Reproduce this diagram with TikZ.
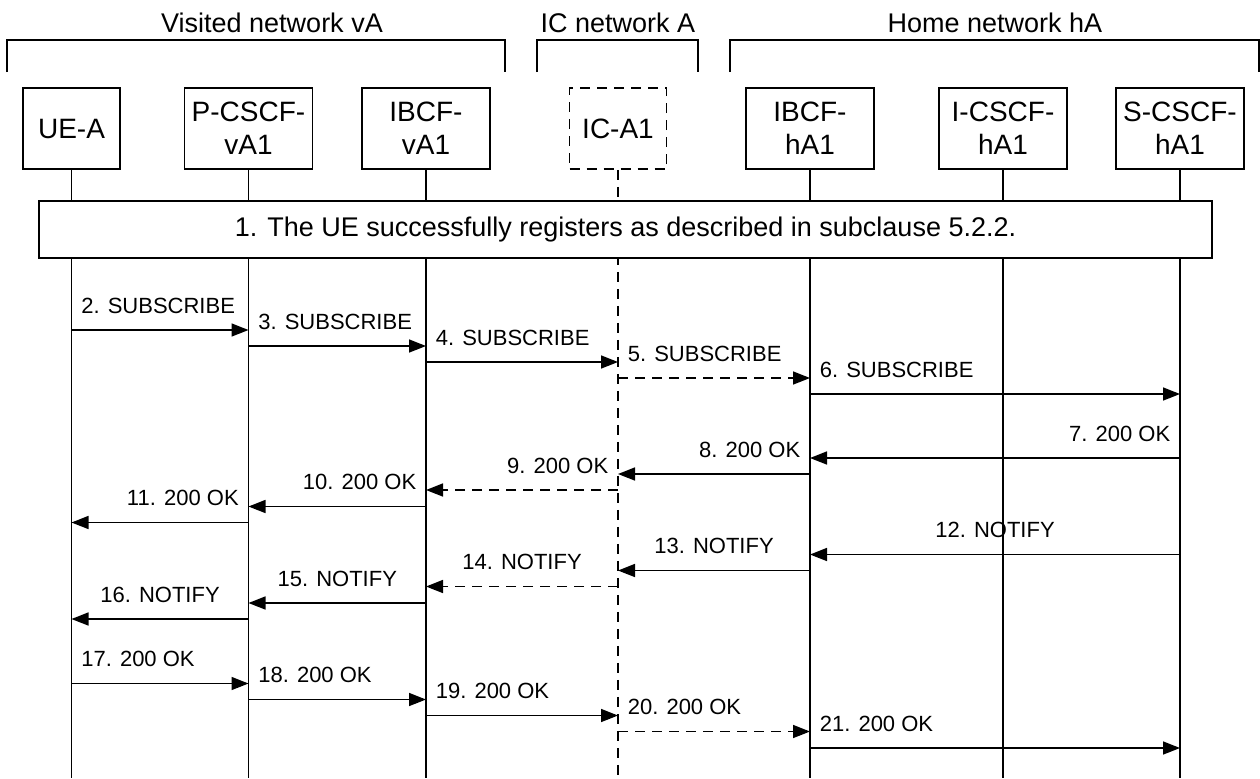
\documentclass[tikz,border=0pt]{standalone}
\usepackage{fontspec}
\setmainfont{Liberation Sans}
\usetikzlibrary{arrows.meta,positioning}

\begin{document}
\begin{tikzpicture}[x=0.5pt,y=-0.5pt,>={Triangle[length=8.5pt,width=6.5pt]},
        line width=0.8pt,node distance=88.5pt,
        entity/.style={draw,minimum width=64pt,minimum height=40.5pt,align=center,
          inner sep=1pt,font=\fontsize{14}{16.5}\selectfont},
        head/.style={anchor=base,font=\fontsize{13.5}{16}\selectfont},
        dash ic/.style={dash pattern=on 5pt off 3.5pt},
        lab r/.style={at start,anchor=base west,xshift=4.5pt,yshift=8.5pt,
          inner sep=0pt,font=\fontsize{11}{13}\selectfont},
        lab l/.style={at start,anchor=base east,xshift=-4.5pt,yshift=8.5pt,
          inner sep=0pt,font=\fontsize{11}{13}\selectfont},
        lab m/.style={midway,anchor=base,yshift=8.5pt,
          inner sep=0pt,font=\fontsize{11}{13}\selectfont}]
        \useasboundingbox (0,0) rectangle (1260,778);
        \coordinate (bottom) at (0,778);

        % networks
        \node[head] (vnet) at (272,32) {Visited network vA};
        \node[head] (icnet) at (618,32) {IC network A};
        \node[head] (hnet) at (995,32) {Home network hA};
        \draw (7,72) |- (505,40) -- (505,72);
        \draw (537,72) |- (698,40) -- (698,72);
        \draw (730,72) |- (1259,40) -- (1259,72);

        % entities
        \node[entity,minimum width=48.5pt] (ue) at (71.5,128.5) {UE-A};
        \node[entity] (pcscf) [right of=ue] {P-CSCF-\\vA1};
        \node[entity] (ibcfv) [right of=pcscf, node distance=88.75pt] {IBCF-\\vA1};
        \node[entity,minimum width=48.5pt,dash ic] (ic) [right of=ibcfv, node distance=96pt] {IC-A1};
        \node[entity] (ibcfh) [right of=ic, node distance=96pt] {IBCF-\\hA1};
        \node[entity] (icscf) [right of=ibcfh, node distance=96.5pt] {I-CSCF-\\hA1};
        \node[entity] (scscf) [right of=icscf] {S-CSCF-\\hA1};

        % lifelines
        \draw (ue.south) -- (ue |- bottom);
        \draw (pcscf.south) -- (pcscf |- bottom);
        \draw (ibcfv.south) -- (ibcfv |- bottom);
        \draw[dash ic] (ic.south) -- (ic |- bottom);
        \draw (ibcfh.south) -- (ibcfh |- bottom);
        \draw (icscf.south) -- (icscf |- bottom);
        \draw (scscf.south) -- (scscf |- bottom);

        \node[draw,fill=white,minimum width=586.5pt,minimum height=28.5pt,
          font=\fontsize{13.5}{16}\selectfont] (reg) at (625.5,229.5)
          {1. The UE successfully registers as described in subclause 5.2.2.};

        % messages
        \draw[->] (ue |- 0,330) -- node[lab r] {2. SUBSCRIBE} (pcscf |- 0,330);
        \draw[->] (pcscf |- 0,346) -- node[lab r] {3. SUBSCRIBE} (ibcfv |- 0,346);
        \draw[->] (ibcfv |- 0,362) -- node[lab r] {4. SUBSCRIBE} (ic |- 0,362);
        \draw[->,dash ic] (ic |- 0,378) -- node[lab r] {5. SUBSCRIBE} (ibcfh |- 0,378);
        \draw[->] (ibcfh |- 0,394) -- node[lab r] {6. SUBSCRIBE} (scscf |- 0,394);
        \draw[->] (scscf |- 0,458) -- node[lab l] {7. 200 OK} (ibcfh |- 0,458);
        \draw[->] (ibcfh |- 0,474) -- node[lab l] {8. 200 OK} (ic |- 0,474);
        \draw[->,dash ic] (ic |- 0,490) -- node[lab l] {9. 200 OK} (ibcfv |- 0,490);
        \draw[->] (ibcfv |- 0,506.5) -- node[lab l] {10. 200 OK} (pcscf |- 0,506.5);
        \draw[->] (pcscf |- 0,522.5) -- node[lab l] {11. 200 OK} (ue |- 0,522.5);
        \draw[->] (scscf |- 0,554.5) -- node[lab m] {12. NOTIFY} (ibcfh |- 0,554.5);
        \draw[->] (ibcfh |- 0,570.5) -- node[lab m] {13. NOTIFY} (ic |- 0,570.5);
        \draw[->,dash ic] (ic |- 0,586.5) -- node[lab m] {14. NOTIFY} (ibcfv |- 0,586.5);
        \draw[->] (ibcfv |- 0,603) -- node[lab m] {15. NOTIFY} (pcscf |- 0,603);
        \draw[->] (pcscf |- 0,619) -- node[lab m] {16. NOTIFY} (ue |- 0,619);
        \draw[->] (ue |- 0,683.5) -- node[lab r] {17. 200 OK} (pcscf |- 0,683.5);
        \draw[->] (pcscf |- 0,699.5) -- node[lab r] {18. 200 OK} (ibcfv |- 0,699.5);
        \draw[->] (ibcfv |- 0,715.5) -- node[lab r] {19. 200 OK} (ic |- 0,715.5);
        \draw[->,dash ic] (ic |- 0,731.5) -- node[lab r] {20. 200 OK} (ibcfh |- 0,731.5);
        \draw[->] (ibcfh |- 0,748) -- node[lab r] {21. 200 OK} (scscf |- 0,748);
\end{tikzpicture}
\end{document}
